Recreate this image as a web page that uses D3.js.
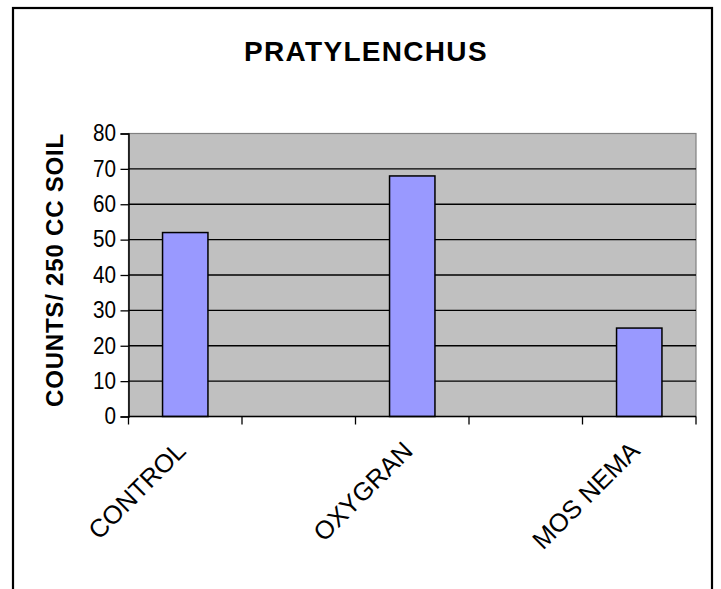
<!DOCTYPE html>
<html>
<head>
<meta charset="utf-8">
<script src="https://cdn.jsdelivr.net/npm/d3@7"></script>
<style>
  body { margin: 0; background: #fff; }
  svg { display: block; }
  text { font-family: "Liberation Sans", Arial, sans-serif; }
</style>
</head>
<body>
<svg id="chart" width="721" height="589"></svg>
<script>
const chartTitle = "PRATYLENCHUS";
const yAxisTitle = "COUNTS/ 250 CC SOIL";
const categories = ["CONTROL", "", "OXYGRAN", "", "MOS NEMA"];
const values = [52, null, 68, null, 25];
const yTicks = [0, 10, 20, 30, 40, 50, 60, 70, 80];

const svg = d3.select("#chart");
const plot = { left: 128.5, right: 696, top: 133.5, bottom: 416.5 };

// outer frame
svg.append("rect")
  .attr("x", 13).attr("y", 8)
  .attr("width", 699).attr("height", 600)
  .attr("fill", "#fff").attr("stroke", "#000").attr("stroke-width", 2.2);

const x = d3.scaleBand().domain(d3.range(categories.length))
  .range([plot.left, plot.right]).padding(0);
const y = d3.scaleLinear().domain([0, 80]).range([plot.bottom, plot.top]);

// plot background
svg.append("rect")
  .attr("x", plot.left).attr("y", plot.top)
  .attr("width", plot.right - plot.left).attr("height", plot.bottom - plot.top)
  .attr("fill", "#C0C0C0").attr("stroke", "#808080").attr("stroke-width", 1.2);

// gridlines
svg.append("g").selectAll("line")
  .data(yTicks.filter(d => d > 0 && d < 80))
  .join("line")
  .attr("x1", plot.left).attr("x2", plot.right)
  .attr("y1", d => y(d)).attr("y2", d => y(d))
  .attr("stroke", "#000").attr("stroke-width", 1.3);

// bars
const bw = x.step() * 0.4;
svg.append("g").selectAll("rect")
  .data(values.map((v, i) => ({ v, i })).filter(d => d.v !== null))
  .join("rect")
  .attr("x", d => x(d.i) + (x.step() - bw) / 2)
  .attr("y", d => y(d.v))
  .attr("width", bw)
  .attr("height", d => y(0) - y(d.v))
  .attr("fill", "#9999FF").attr("stroke", "#000").attr("stroke-width", 1.5);

// y axis
const yAxis = d3.axisLeft(y).tickValues(yTicks).tickSize(8).tickPadding(3);
const gy = svg.append("g").attr("transform", `translate(${plot.left},0)`).call(yAxis);
gy.select(".domain").attr("stroke", "#000").attr("stroke-width", 1.5);
gy.selectAll(".tick line").attr("stroke", "#000").attr("stroke-width", 1.3);
gy.selectAll(".tick text")
  .attr("font-size", 23).attr("fill", "#000")
  .attr("x", null)
  .attr("transform", "translate(-12.5,0) scale(0.9,1)")
  .style("font-family", "'Liberation Sans', Arial, sans-serif");

// x axis: ticks at category boundaries
const boundaries = d3.range(categories.length + 1).map(i => plot.left + i * x.step());
const gx = svg.append("g");
gx.append("line")
  .attr("x1", plot.left).attr("x2", plot.right)
  .attr("y1", plot.bottom).attr("y2", plot.bottom)
  .attr("stroke", "#000").attr("stroke-width", 1.5);
gx.selectAll("line.tk").data(boundaries).join("line")
  .attr("class", "tk")
  .attr("x1", d => d).attr("x2", d => d)
  .attr("y1", plot.bottom).attr("y2", plot.bottom + 8)
  .attr("stroke", "#000").attr("stroke-width", 1.3);

// x labels rotated
gx.selectAll("text").data(categories.map((c, i) => ({ c, i })).filter(d => d.c))
  .join("text")
  .attr("transform", d => `translate(${x(d.i) + x.step() / 2 + 2},${plot.bottom + 36}) rotate(-45)`)
  .attr("text-anchor", "end")
  .attr("font-size", 25.5)
  .attr("fill", "#000")
  .text(d => d.c);

// title
svg.append("text")
  .attr("x", 366).attr("y", 61)
  .attr("text-anchor", "middle")
  .attr("font-size", 28).attr("font-weight", "bold")
  .attr("letter-spacing", 1.3)
  .text(chartTitle);

// y axis title
svg.append("text")
  .attr("transform", `translate(63,${(plot.top + plot.bottom) / 2 - 5}) rotate(-90)`)
  .attr("text-anchor", "middle")
  .attr("font-size", 24).attr("font-weight", "bold")
  .attr("letter-spacing", 0.8)
  .text(yAxisTitle);
</script>
</body>
</html>
